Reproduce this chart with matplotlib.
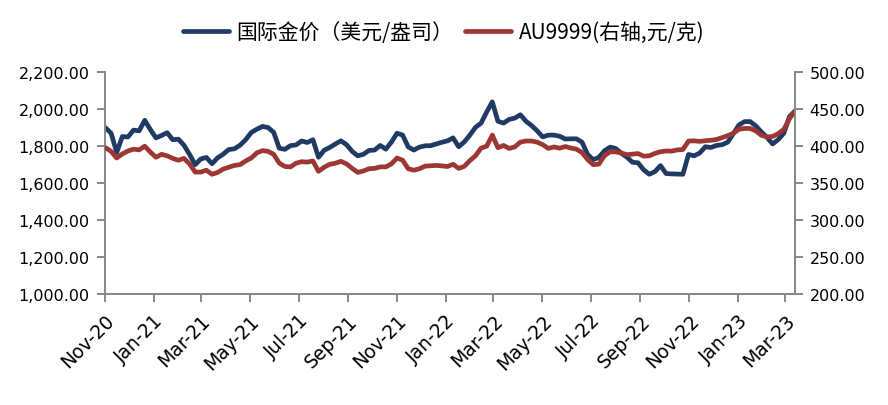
import matplotlib
matplotlib.use('Agg')
import matplotlib.pyplot as plt
import matplotlib.dates as mdates
from matplotlib.ticker import FuncFormatter, MultipleLocator
from matplotlib.font_manager import FontProperties
import pandas as pd

plt.rcParams['font.family'] = ['DejaVu Sans']

# ---- data (weekly readings from the chart) ----
start_date = '2020-11-02'
n_weeks = 124
series_names = ['国际金价（美元/盎司）', 'AU9999(右轴,元/克)']

gold_usd = [1900, 1870, 1766, 1852, 1850, 1887, 1883, 1940, 1890, 1845,
            1858, 1873, 1835, 1838, 1805, 1755, 1700, 1731, 1739, 1705,
            1737, 1757, 1782, 1786, 1805, 1835, 1874, 1892, 1907, 1901,
            1875, 1789, 1783, 1803, 1807, 1828, 1820, 1835, 1740, 1778,
            1793, 1812, 1829, 1808, 1772, 1748, 1756, 1777, 1779, 1804,
            1784, 1822, 1870, 1860, 1796, 1779, 1795, 1802, 1803, 1812,
            1821, 1829, 1845, 1797, 1823, 1860, 1902, 1925, 1985, 2040,
            1935, 1925, 1945, 1952, 1970, 1935, 1912, 1883, 1850, 1860,
            1860, 1854, 1839, 1840, 1840, 1822, 1755, 1727, 1739, 1775,
            1795, 1788, 1762, 1741, 1713, 1710, 1672, 1648, 1662, 1695,
            1652, 1650, 1649, 1648, 1755, 1748, 1763, 1797, 1793, 1804,
            1808, 1822, 1868, 1915, 1933, 1933, 1910, 1877, 1848, 1812,
            1836, 1870, 1960, 1990]

au9999 = [398, 393, 384, 389.5, 393.5, 396, 395, 400, 392, 385,
          389, 387, 383.5, 381, 383.5, 376, 365, 365, 367.5, 362,
          364.5, 369, 371.5, 374, 375, 380, 384, 391, 394, 393,
          389, 377, 372.5, 372, 377, 379, 378.5, 380, 366, 371.5,
          375.5, 377, 379.5, 376, 370, 364.5, 366.5, 369.5, 370, 372,
          372, 376, 384, 381, 369.5, 367.5, 369.5, 373, 373.5, 374,
          373.3, 372.5, 375.5, 370, 372.7, 380.5, 387, 397.5, 400, 415,
          398, 401, 397, 399, 405.5, 407, 407, 405.5, 402, 397,
          399, 397.3, 399.5, 397.5, 396, 391.5, 382, 375, 375.7, 387,
          392.5, 392.3, 390.8, 388.5, 389.2, 390, 386.5, 387, 390.2, 392.5,
          393.5, 393.3, 395, 395.5, 407, 407.2, 406.5, 407.4, 408, 409,
          411.6, 414.3, 417.5, 423, 424, 424, 420.7, 414.7, 412.5, 413.2,
          417, 422.7, 437, 448]

dates = pd.date_range(start_date, periods=n_weeks, freq='7D')

BLUE = '#1F3A63'
RED = '#9C3733'
GRAY = '#878787'

fig = plt.figure(figsize=(8.88, 4.06), dpi=100)
ax = fig.add_axes([0.1179, 0.2734, 0.7774, 0.5461])
l1, = ax.plot(dates, gold_usd, color=BLUE, lw=3.4, solid_joinstyle='round',
              solid_capstyle='round', label=series_names[0])
ax2 = ax.twinx()
l2, = ax2.plot(dates, au9999, color=RED, lw=3.4, solid_joinstyle='round',
               solid_capstyle='round', label=series_names[1])

ax.set_xlim(pd.Timestamp('2020-11-01'), pd.Timestamp('2023-03-13'))
ax.set_ylim(1000, 2200)
ax2.set_ylim(200, 500)
ax.yaxis.set_major_locator(MultipleLocator(200))
ax2.yaxis.set_major_locator(MultipleLocator(50))
fmt = FuncFormatter(lambda v, p: f'{v:,.2f}')
ax.yaxis.set_major_formatter(fmt)
ax2.yaxis.set_major_formatter(fmt)

ax.xaxis.set_major_locator(mdates.MonthLocator(bymonth=[1, 3, 5, 7, 9, 11]))
ax.xaxis.set_major_formatter(mdates.DateFormatter('%b-%y'))

for a in (ax, ax2):
    a.spines['top'].set_visible(False)
    for s in a.spines.values():
        s.set_color(GRAY)
        s.set_linewidth(1.4)
ax.spines['right'].set_visible(False)
ax2.spines['left'].set_visible(False)
ax2.spines['bottom'].set_visible(False)

ax.tick_params(axis='y', length=6, width=1.4, color=GRAY, labelsize=11.5, pad=5)
ax2.tick_params(axis='y', length=6, width=1.4, color=GRAY, labelsize=11.5, pad=4.5)
ax.tick_params(axis='x', length=6, width=1.4, color=GRAY, labelsize=13.5, pad=6,
               labelrotation=45)
for lbl in ax.get_xticklabels():
    lbl.set_horizontalalignment('right')
    lbl.set_rotation_mode('anchor')

fig.legend([l1, l2], series_names, loc='center', bbox_to_anchor=(0.4995, 0.919),
           ncol=2, frameon=False,
           prop=FontProperties(family=['Noto Sans CJK SC', 'DejaVu Sans'], size=15),
           handlelength=2.2, handletextpad=0.35, columnspacing=0.6)

fig.savefig('out.png', dpi=100)
